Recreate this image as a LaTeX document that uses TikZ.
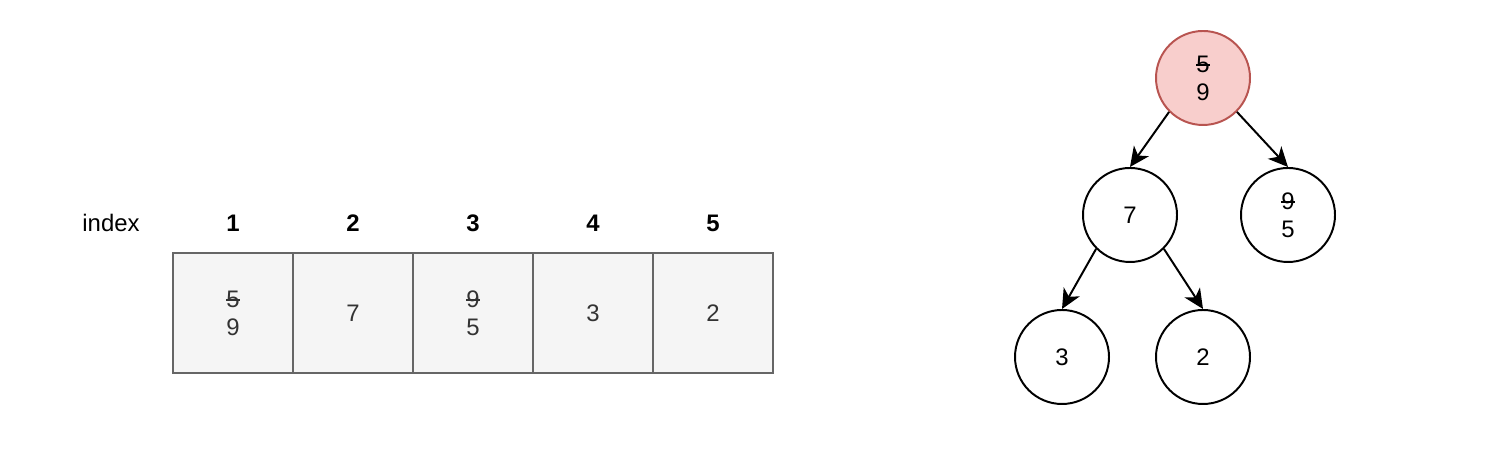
\documentclass[tikz,border=0pt]{standalone}
\usepackage{fontspec}
\setmainfont{Liberation Sans}
\usetikzlibrary{arrows.meta}

\definecolor{cellfill}{HTML}{F5F5F5}
\definecolor{celldraw}{HTML}{666666}
\definecolor{celltext}{HTML}{333333}
\definecolor{rootfill}{HTML}{F8CECC}
\definecolor{rootdraw}{HTML}{B85450}

% struck-out digit
\newcommand{\strk}[1]{\ooalign{#1\cr\leaders\hrule height 0.62ex depth -0.5ex\hfill\cr}}

\begin{document}
\begin{tikzpicture}[font=\fontsize{17}{20}\selectfont]
    \tikzstyle{cell}=[draw=celldraw,fill=cellfill,text=celltext,line width=1.1pt,
        minimum size=3cm,inner sep=0pt,align=center]
    \tikzstyle{heapnode}=[circle,draw=black,fill=white,line width=1.4pt,
        minimum size=2.35cm,inner sep=0pt,align=center]
    \tikzstyle{rootnode}=[heapnode,draw=rootdraw,fill=rootfill]
    \tikzstyle{link}=[-{Stealth[length=14pt,width=13pt,inset=4pt]},line width=1.4pt]

    \useasboundingbox (0,0) rectangle (37.5,11.3);

    % index row
    \node (idx) at (2.775,5.725) {index};
    \foreach \i in {1,...,5}
        \node[font=\fontsize{17}{20}\selectfont\bfseries] (I-\i) at (5.825+3*\i-3,5.725) {\i};

    % array cells
    \foreach \i / \val in {1/{\strk{5}\\9}, 2/7, 3/{\strk{9}\\5}, 4/3, 5/2}
        \node[cell] (C-\i) at (5.825+3*\i-3,3.475) {\val};

    % the heap as a tree
    \node[rootnode] (R) at (30.075,9.35) {\strk{5}\\9};
    \node[heapnode] (N7) at (28.25,5.925) {7};
    \node[heapnode] (N9) at (32.2,5.925) {\strk{9}\\5};
    \node[heapnode] (N3) at (26.55,2.375) {3};
    \node[heapnode] (N2) at (30.075,2.375) {2};

    % parent to child
    \draw[link] (R.225) -- (N7.north);
    \draw[link] (R.315) -- (N9.north);
    \draw[link] (N7.225) -- (N3.north);
    \draw[link] (N7.315) -- (N2.north);
\end{tikzpicture}
\end{document}
